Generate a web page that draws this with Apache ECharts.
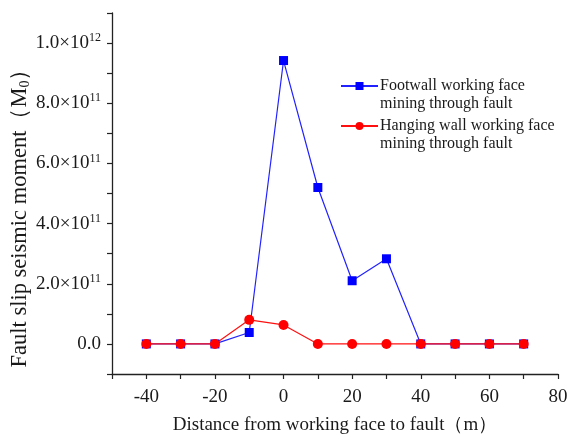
<!DOCTYPE html>
<html><head><meta charset="utf-8">
<script src="https://cdn.jsdelivr.net/npm/echarts@6/dist/echarts.min.js"></script>
<style>html,body{margin:0;padding:0;background:#fff}#c{width:567px;height:436px}</style>
</head><body><div id="c"></div>
<script>
const distances = [-40, -30, -20, -10, 0, 10, 20, 30, 40, 50, 60, 70];
const footwall = [0, 0, 0, 3.8e10, 9.42e11, 5.2e11, 2.1e11, 2.83e11, 0, 0, 0, 0];
const hanging = [0, 0, 0, 8.0e10, 6.3e10, 0, 0, 0, 0, 0, 0, 0];
const xLabelValues = [-40, -20, 0, 20, 40, 60, 80];
const xTickValues = [-50, -40, -30, -20, -10, 0, 10, 20, 30, 40, 50, 60, 70, 80];
const yLabelValues = [0, 2e11, 4e11, 6e11, 8e11, 1e12];
const yTickValues = [-1e11, 0, 1e11, 2e11, 3e11, 4e11, 5e11, 6e11, 7e11, 8e11, 9e11, 1e12, 1.1e12];
const seriesNames = ['Footwall working face', 'Hanging wall working face'];
const seriesSecondLine = ['mining through fault', 'mining through fault'];

const FONT = '"Liberation Serif", "Times New Roman", serif';
const TXT = '#1a1a1a';

function yFmt(v) {
  if (Math.abs(v) < 1) return '{b|0.0}';
  const e = Math.floor(Math.log10(Math.abs(v)) + 1e-9);
  const m = v / Math.pow(10, e);
  return '{b|' + m.toFixed(1) + '×10}{s|' + e + '}';
}

const chart = echarts.init(document.getElementById('c'), null, {renderer: 'canvas'});
chart.setOption({
  animation: false,
  backgroundColor: '#fff',
  textStyle: {fontFamily: FONT, color: TXT},
  grid: {left: 112, right: 9, top: 13, bottom: 62, containLabel: false, outerBoundsMode: 'none'},
  legend: {
    left: 340, top: 78, orient: 'vertical', padding: 0,
    itemWidth: 37, itemHeight: 10, itemGap: 24,
    data: [seriesNames[0], seriesNames[1]],
    textStyle: {fontFamily: FONT, fontSize: 16, color: TXT, padding: [0, 0, 0, -3]}
  },
  graphic: [
    {type: 'text', left: 380, top: 96, style: {text: seriesSecondLine[0], font: '16px ' + FONT, fill: TXT}},
    {type: 'text', left: 380, top: 136, style: {text: seriesSecondLine[1], font: '16px ' + FONT, fill: TXT}}
  ],
  xAxis: {
    type: 'value', min: -50, max: 80,
    name: 'Distance from working face to fault（m）',
    nameLocation: 'middle', nameGap: 42,
    nameTextStyle: {fontFamily: FONT, fontSize: 19, color: TXT},
    axisLine: {show: true, onZero: false, lineStyle: {color: '#222', width: 1.3}},
    axisTick: {show: true, length: 5, customValues: xTickValues, lineStyle: {color: '#222', width: 1.2}},
    axisLabel: {customValues: xLabelValues, margin: 14, fontFamily: FONT, fontSize: 19, color: TXT},
    splitLine: {show: false}
  },
  yAxis: {
    type: 'value', min: -1e11, max: 1.1e12,
    name: 'Fault slip seismic moment（M{sub|0}）',
    nameLocation: 'middle', nameGap: 80, nameRotate: 90, nameMoveOverlap: false,
    nameTextStyle: {fontFamily: FONT, fontSize: 22.5, color: TXT, padding: [0, 38, 0, 0],
      rich: {sub: {fontFamily: FONT, fontSize: 14, color: TXT, padding: [10, 0, 0, 0]}}},
    axisLine: {show: true, onZero: false, lineStyle: {color: '#222', width: 1.3}},
    axisTick: {show: true, length: 5, customValues: yTickValues, lineStyle: {color: '#222', width: 1.2}},
    axisLabel: {
      customValues: yLabelValues, margin: 11, formatter: yFmt,
      rich: {
        b: {fontFamily: FONT, fontSize: 19, color: TXT},
        s: {fontFamily: FONT, fontSize: 12, color: TXT, padding: [0, 0, 10, 0]}
      }
    },
    splitLine: {show: false}
  },
  series: [
    {
      name: seriesNames[0], type: 'line',
      data: distances.map((d, i) => [d, footwall[i]]),
      symbol: 'rect', symbolSize: 9,
      itemStyle: {color: '#0000ff'},
      lineStyle: {color: '#2222ff', width: 1.2}
    },
    {
      name: seriesNames[1], type: 'line',
      data: distances.map((d, i) => [d, hanging[i]]),
      symbol: 'circle', symbolSize: 10,
      itemStyle: {color: '#ff0000'},
      lineStyle: {color: '#ff1010', width: 1.2}
    }
  ]
});
</script></body></html>
